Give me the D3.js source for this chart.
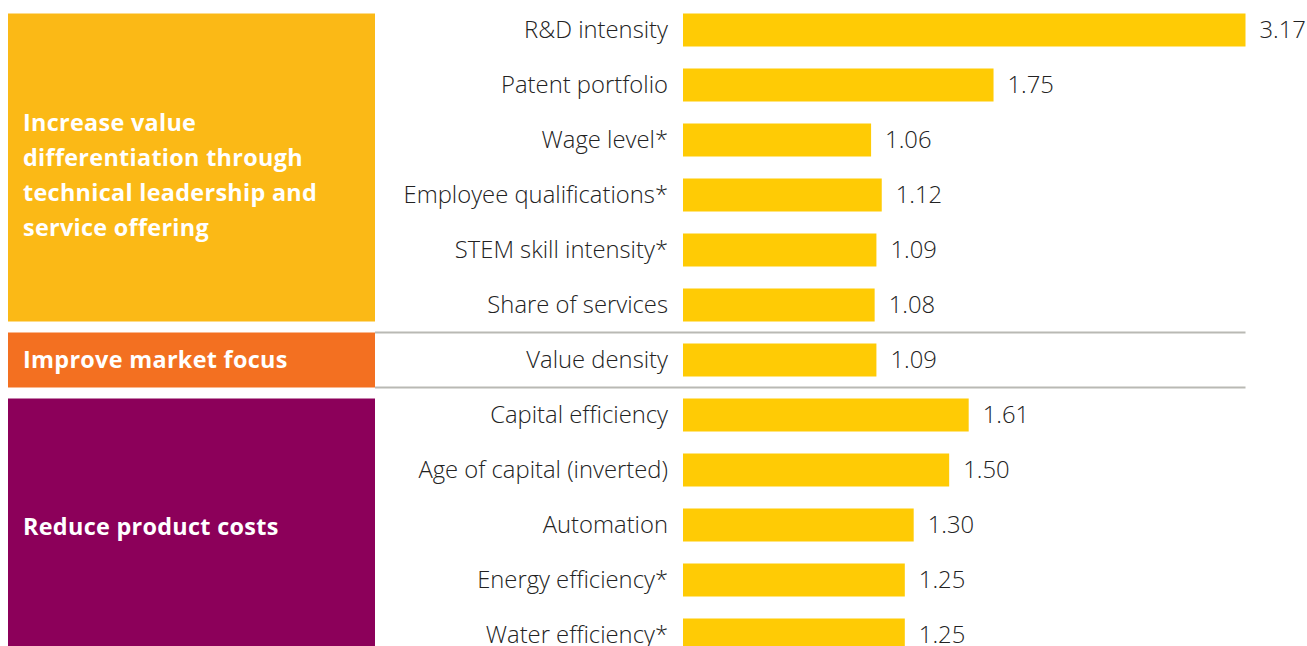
<!DOCTYPE html>
<html><head><meta charset="utf-8">
<script src="https://cdn.jsdelivr.net/npm/d3@7"></script>
<style>
html,body{margin:0;padding:0;background:#fff;overflow:hidden;}
</style></head>
<body>
<svg id="chart" width="1307" height="646"></svg>
<script>
const categories = ["R&D intensity","Patent portfolio","Wage level*","Employee qualifications*","STEM skill intensity*","Share of services","Value density","Capital efficiency","Age of capital (inverted)","Automation","Energy efficiency*","Water efficiency*"];
const values = [3.17,1.75,1.06,1.12,1.09,1.08,1.09,1.61,1.50,1.30,1.25,1.25];
const valueLabels = ["3.17","1.75","1.06","1.12","1.09","1.08","1.09","1.61","1.50","1.30","1.25","1.25"];
const groupNames = ["Increase value differentiation through technical leadership and service offering","Improve market focus","Reduce product costs"];
const groupLines = [["Increase value","differentiation through","technical leadership and","service offering"],["Improve market focus"],["Reduce product costs"]];
const groupFirst = [0,6,7];
const groupLast = [5,6,11];
const groupColors = ["#FBB916","#F37021","#8C005A"];

const svg = d3.select("#chart");
const y = d3.scaleBand().domain(categories).range([2.5, 662.5]).padding(0);
const x = d3.scaleLinear().domain([0, 3.17]).range([683, 1245.5]);
const barH = 33;
const cy = c => y(c) + y.bandwidth()/2;
const textShift = [8, 0, 2];

// group blocks
groupNames.forEach((g, i) => {
  const first = categories[groupFirst[i]], last = categories[groupLast[i]];
  let top, bottom;
  if (i === 1) { top = y(first); bottom = y(first) + y.bandwidth(); }
  else { top = cy(first) - barH/2; bottom = cy(last) + barH/2; }
  svg.append("rect").attr("x", 8).attr("y", top).attr("width", 367).attr("height", bottom - top).attr("fill", groupColors[i]);
  const lines = groupLines[i];
  const mid = (top + bottom)/2 + textShift[i];
  const lh = 35;
  const t = svg.append("text").attr("font-family","'Open Sans', sans-serif").attr("font-weight", 700)
    .attr("font-size", 23.4).attr("letter-spacing", "0.3px").attr("fill", "#fff");
  lines.forEach((l, k) => {
    t.append("tspan").attr("x", 23).attr("y", mid + (k - (lines.length-1)/2)*lh).attr("dy", "0.35em").text(l);
  });
});

// separators
[5, 6].forEach(i => {
  const yy = y(categories[i]) + y.bandwidth();
  svg.append("line").attr("x1", 375).attr("x2", 1245.5).attr("y1", yy).attr("y2", yy)
    .attr("stroke", "#b9b9b4").attr("stroke-width", 2);
});

// bars
svg.selectAll("rect.bar").data(categories).join("rect").attr("class","bar")
  .attr("x", x(0)).attr("y", d => cy(d) - barH/2)
  .attr("width", (d,i) => x(values[i]) - x(0)).attr("height", barH).attr("fill", "#FFCB05");

// category labels
svg.selectAll("text.cat").data(categories).join("text").attr("class","cat")
  .attr("x", 668).attr("y", d => cy(d)).attr("dy","0.35em").attr("text-anchor","end")
  .attr("font-family","'Open Sans', sans-serif").attr("font-weight",300).attr("font-size",23.8).attr("fill","#222")
  .text(d => d);

// value labels
svg.selectAll("text.val").data(categories).join("text").attr("class","val")
  .attr("x", (d,i) => x(values[i]) + 14).attr("y", d => cy(d)).attr("dy","0.35em")
  .attr("font-family","'Open Sans', sans-serif").attr("font-weight",300).attr("font-size",23.8).attr("fill","#222")
  .text((d,i) => valueLabels[i]);
</script>
</body></html>
